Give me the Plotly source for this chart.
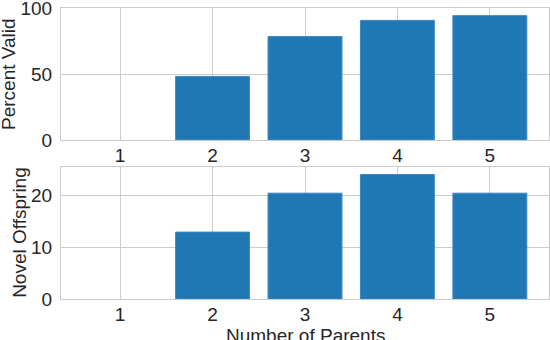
import plotly.graph_objects as go
from plotly.subplots import make_subplots

parents = [1, 2, 3, 4, 5]
percent_valid = [0, 48.3, 78.6, 90.9, 94.5]
novel_offspring = [0, 12.9, 20.4, 24.0, 20.4]
x_ticks = ["1", "2", "3", "4", "5"]

BAR = "#1f77b4"
EDGE = "#3d8ac3"
GRID = "#cccccc"
TXT = "#262626"
FONT = "Liberation Sans, Arial, sans-serif"
FS = 19


def edge_widths(vals):
    return [0 if v == 0 else 1 for v in vals]


fig = make_subplots(rows=2, cols=1)
fig.add_trace(go.Bar(x=parents, y=percent_valid, width=0.8,
                     marker=dict(color=BAR, line=dict(color=EDGE, width=edge_widths(percent_valid)))), row=1, col=1)
fig.add_trace(go.Bar(x=parents, y=novel_offspring, width=0.8,
                     marker=dict(color=BAR, line=dict(color=EDGE, width=edge_widths(novel_offspring)))), row=2, col=1)

axis_common = dict(showgrid=True, gridcolor=GRID, gridwidth=1, showline=True, linecolor=GRID, linewidth=1,
                   mirror=True, zeroline=False, ticks="", automargin=False, ticklabeloverflow="allow",
                   tickfont=dict(size=FS, color=TXT, family=FONT))

fig.update_xaxes(**axis_common, range=[0.36, 5.64], tickvals=parents, ticktext=x_ticks, ticklabelstandoff=-2)
fig.update_yaxes(**axis_common, ticklabelstandoff=4)
fig.update_yaxes(range=[0, 100.3], tickvals=[0, 50, 100], domain=[0.5464, 1.0], row=1, col=1)
fig.update_yaxes(range=[0, 25.5], tickvals=[0, 10, 20], domain=[0, 0.4546], row=2, col=1)

title_font = dict(size=FS, color=TXT, family=FONT)
fig.add_annotation(text="Percent Valid", xref="paper", yref="paper", x=0, y=(0.5464 + 1.0) / 2,
                   xanchor="center", yanchor="middle", xshift=-52, textangle=-90, showarrow=False, font=title_font)
fig.add_annotation(text="Novel Offspring", xref="paper", yref="paper", x=0, y=0.4546 / 2,
                   xanchor="center", yanchor="middle", xshift=-41, textangle=-90, showarrow=False, font=title_font)
fig.add_annotation(text="Number of Parents", xref="paper", yref="paper", x=0.5, y=0,
                   xanchor="center", yanchor="top", yshift=-24, showarrow=False, font=title_font)

fig.update_layout(width=550, height=340, margin=dict(l=61, r=1, t=8, b=41, autoexpand=False), showlegend=False,
                  plot_bgcolor="white", paper_bgcolor="white", bargap=0.2)

fig.write_html("out.html", config={"displayModeBar": False}, post_script="document.body.style.margin='0';")
